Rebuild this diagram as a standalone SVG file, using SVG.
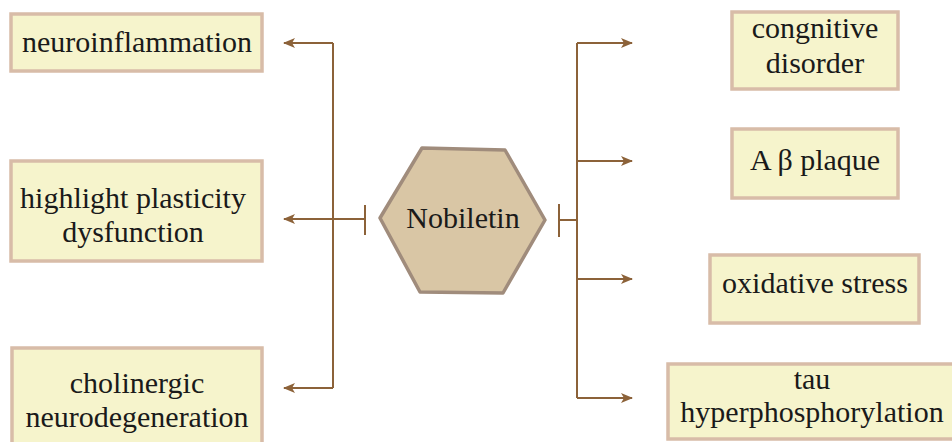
<svg xmlns="http://www.w3.org/2000/svg" width="952" height="442" viewBox="0 0 952 442">
  <style>
    .box { fill: #f6f4cc; stroke: #d8bca8; stroke-width: 3.5; }
    .lbl { font-size: 30px; fill: #1a1a1a; text-anchor: middle; }
    .wire { fill: none; stroke: #8c6239; stroke-width: 2; }
    .hex { fill: #d9c6a5; stroke: #a08c7c; stroke-width: 3.5; stroke-linejoin: round; }
  </style>
  <defs>
    <marker id="arrow" viewBox="0 0 12 10" refX="11" refY="5" markerWidth="12" markerHeight="10" markerUnits="userSpaceOnUse" orient="auto">
      <path d="M0,0 L12,5 L0,10 L3,5 Z" fill="#8c6239"/>
    </marker>
  </defs>

  <rect width="952" height="442" fill="#ffffff"/>

  <!-- connectors -->
  <g id="connectors">
    <!-- left branch -->
    <path class="wire" d="M333,43 L333,388"/>
    <path class="wire" d="M333,43 L284,43" marker-end="url(#arrow)"/>
    <path class="wire" d="M333,388 L284,388" marker-end="url(#arrow)"/>
    <path class="wire" d="M365,219 L284,219" marker-end="url(#arrow)"/>
    <path class="wire" d="M365,205 L365,235"/>
    <!-- right branch -->
    <path class="wire" d="M577,43 L577,398"/>
    <path class="wire" d="M559,220 L577,220"/>
    <path class="wire" d="M559,204 L559,237"/>
    <path class="wire" d="M577,43 L632,43" marker-end="url(#arrow)"/>
    <path class="wire" d="M577,161 L632,161" marker-end="url(#arrow)"/>
    <path class="wire" d="M577,279 L632,279" marker-end="url(#arrow)"/>
    <path class="wire" d="M577,398 L632,398" marker-end="url(#arrow)"/>
  </g>

  <g font-family="Liberation Serif, Times New Roman, serif">
    <!-- central compound -->
    <g id="nobiletin">
      <polygon class="hex" points="422,148 505,150 545,220 503,293 420,292 380,218"/>
      <text class="lbl" x="463" y="228">Nobiletin</text>
    </g>

    <!-- left outcomes -->
    <g id="neuroinflammation">
      <rect class="box" x="11" y="14" width="251" height="57"/>
      <text class="lbl" x="137" y="52">neuroinflammation</text>
    </g>
    <g id="plasticity">
      <rect class="box" x="11" y="161" width="251" height="100"/>
      <text class="lbl" x="133" y="208">highlight plasticity</text>
      <text class="lbl" x="133" y="242">dysfunction</text>
    </g>
    <g id="cholinergic">
      <rect class="box" x="12" y="348" width="250" height="104"/>
      <text class="lbl" x="137" y="393">cholinergic</text>
      <text class="lbl" x="137" y="427">neurodegeneration</text>
    </g>

    <!-- right outcomes -->
    <g id="cognitive">
      <rect class="box" x="732" y="12" width="166" height="77"/>
      <text class="lbl" x="815" y="38">congnitive</text>
      <text class="lbl" x="815" y="73">disorder</text>
    </g>
    <g id="abeta">
      <rect class="box" x="732" y="129" width="166" height="69"/>
      <text class="lbl" x="815" y="170">A β  plaque</text>
    </g>
    <g id="oxidative">
      <rect class="box" x="710" y="255" width="209" height="68"/>
      <text class="lbl" x="815" y="293">oxidative stress</text>
    </g>
    <g id="tau">
      <rect class="box" x="668" y="364" width="300" height="75"/>
      <text class="lbl" x="812" y="389">tau</text>
      <text class="lbl" x="812" y="422">hyperphosphorylation</text>
    </g>
  </g>
</svg>
